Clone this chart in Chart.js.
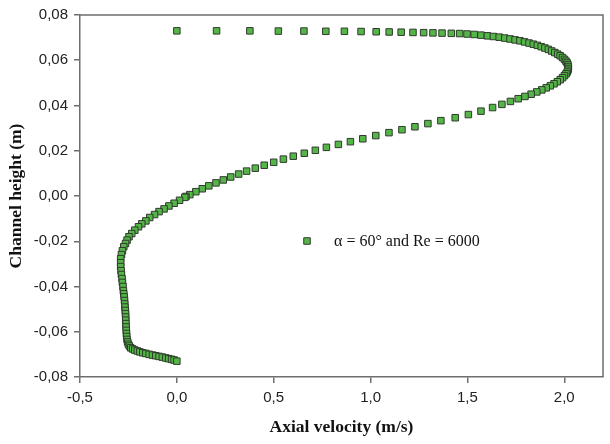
<!DOCTYPE html>
<html>
<head>
<meta charset="utf-8">
<title>Axial velocity profile</title>
<script src="https://cdn.jsdelivr.net/npm/chart.js@4/dist/chart.umd.min.js"></script>
<style>
  html, body { margin: 0; padding: 0; background: #ffffff; }
  #profile-chart { display: block; }
</style>
</head>
<body>
<canvas id="profile-chart" width="610" height="444"></canvas>
<script>
// Axial velocity profile across the channel (alpha = 60 deg, Re = 6000)

// Upper wall up to the velocity peak
const topVelocity = [
  0, 0.205, 0.377, 0.524, 0.656, 0.769, 0.865, 0.951, 1.029, 1.096,
  1.158, 1.219, 1.274, 1.322, 1.369, 1.417, 1.460, 1.498, 1.535, 1.570,
  1.603, 1.634, 1.664, 1.693, 1.720, 1.746, 1.771, 1.795, 1.818, 1.840,
  1.861, 1.881, 1.900, 1.918, 1.935, 1.951, 1.966, 1.979, 1.991, 2.001,
  2.009, 2.015, 2.019, 2.021
];
const topHeight = [
  0.0730, 0.0730, 0.0730, 0.0729, 0.0729, 0.0728, 0.0728, 0.0727, 0.0726, 0.0725,
  0.0724, 0.0723, 0.0722, 0.0721, 0.0720, 0.0719, 0.0718, 0.0716, 0.0714, 0.0711,
  0.0708, 0.0705, 0.0702, 0.0698, 0.0694, 0.0690, 0.0686, 0.0681, 0.0676, 0.0671,
  0.0666, 0.0660, 0.0654, 0.0648, 0.0641, 0.0634, 0.0627, 0.0620, 0.0612, 0.0604,
  0.0596, 0.0588, 0.0580, 0.0572
];

// From the peak back through the channel centre
const coreVelocity = [
  2.021, 2.019, 2.015, 2.009, 2.001, 1.991, 1.979, 1.964, 1.947, 1.928,
  1.907, 1.884, 1.858, 1.829, 1.797, 1.762, 1.722, 1.678, 1.630, 1.570,
  1.505, 1.437, 1.363, 1.296, 1.229, 1.162, 1.095, 1.027, 0.960, 0.896,
  0.834, 0.772, 0.715, 0.658, 0.601, 0.550, 0.500, 0.451, 0.405, 0.360,
  0.319, 0.278, 0.240, 0.202, 0.165, 0.131, 0.098, 0.067, 0.047, 0.041,
  0.014, -0.014, -0.041, -0.066, -0.092, -0.115, -0.140, -0.160, -0.181, -0.198,
  -0.217, -0.233, -0.247, -0.257, -0.265, -0.274, -0.281, -0.286, -0.290
];
const coreHeight = [
  0.0564, 0.0556, 0.0548, 0.0540, 0.0532, 0.0523, 0.0514, 0.0505, 0.0496, 0.0487,
  0.0478, 0.0469, 0.0460, 0.0450, 0.0440, 0.0430, 0.0418, 0.0405, 0.0391, 0.0375,
  0.0360, 0.0346, 0.0333, 0.0320, 0.0306, 0.0293, 0.0280, 0.0267, 0.0253, 0.0240,
  0.0228, 0.0215, 0.0202, 0.0189, 0.0176, 0.0163, 0.0149, 0.0136, 0.0123, 0.0110,
  0.0097, 0.0084, 0.0071, 0.0058, 0.0045, 0.0032, 0.0019, 0.0006, -0.0002, -0.0006,
  -0.0019, -0.0032, -0.0044, -0.0057, -0.0069, -0.0082, -0.0095, -0.0110, -0.0123, -0.0136,
  -0.0151, -0.0166, -0.0180, -0.0195, -0.0210, -0.0224, -0.0242, -0.0259, -0.0277
];

// Reverse-flow region down to the lower wall
const bottomVelocity = [
  -0.290, -0.290, -0.288, -0.286, -0.283, -0.281, -0.278, -0.276, -0.274, -0.272,
  -0.270, -0.269, -0.268, -0.266, -0.265, -0.264, -0.264, -0.263, -0.262, -0.261,
  -0.260, -0.259, -0.257, -0.254, -0.250, -0.245, -0.238, -0.228, -0.217, -0.204,
  -0.191, -0.176, -0.160, -0.143, -0.126, -0.109, -0.092, -0.075, -0.057, -0.042,
  -0.027, -0.014, 0
];
const bottomHeight = [
  -0.0295, -0.0312, -0.0330, -0.0347, -0.0365, -0.0382, -0.0400, -0.0418, -0.0432, -0.0446,
  -0.0462, -0.0477, -0.0491, -0.0506, -0.0520, -0.0535, -0.0549, -0.0564, -0.0579, -0.0594,
  -0.0608, -0.0621, -0.0634, -0.0645, -0.0655, -0.0663, -0.0671, -0.0676, -0.0681, -0.0685,
  -0.0689, -0.0693, -0.0696, -0.0700, -0.0703, -0.0706, -0.0709, -0.0712, -0.0716, -0.0719,
  -0.0722, -0.0725, -0.0730
];

const seriesLabel = 'α = 60° and Re = 6000';
const xTitle = 'Axial velocity (m/s)';
const yTitle = 'Channel height (m)';

const markerFill = '#55b548';
const markerEdge = '#2f3b2c';
const axisColor = '#6e6e6e';

// Zip the velocity/height pairs into scatter points
const toPoints = (xs, ys) => xs.map((v, i) => ({ x: v, y: ys[i] }));
const profilePoints = [
  ...toPoints(topVelocity, topHeight),
  ...toPoints(coreVelocity, coreHeight),
  ...toPoints(bottomVelocity, bottomHeight)
];

// Comma decimal separator on tick labels
const commaFixed = (value, digits) => {
  const v = Math.abs(value) < 1e-9 ? 0 : value;
  return v.toFixed(digits).replace('.', ',');
};

// Closes the plot box on the top and right sides
const frameBox = {
  id: 'frameBox',
  afterDraw(chart) {
    const { ctx, chartArea: a } = chart;
    ctx.save();
    ctx.strokeStyle = axisColor;
    ctx.lineWidth = 1.5;
    ctx.beginPath();
    ctx.moveTo(a.left, a.top);
    ctx.lineTo(a.right, a.top);
    ctx.lineTo(a.right, a.bottom);
    ctx.stroke();
    ctx.restore();
  }
};

// Single legend entry drawn inside the plot area
const innerLegend = {
  id: 'innerLegend',
  afterDraw(chart) {
    const { ctx, chartArea: a } = chart;
    const ds = chart.data.datasets[0];
    const mx = a.left + 227;
    const my = a.top + 226;
    ctx.save();
    ctx.fillStyle = ds.backgroundColor;
    ctx.strokeStyle = ds.borderColor;
    ctx.lineWidth = ds.borderWidth;
    Chart.helpers.drawPoint(ctx, { pointStyle: 'rect', radius: ds.pointRadius, borderWidth: ds.borderWidth }, mx, my);
    ctx.fillStyle = '#111111';
    ctx.font = '16px "Liberation Serif", "Times New Roman", serif';
    ctx.textAlign = 'left';
    ctx.textBaseline = 'middle';
    ctx.fillText(ds.label, mx + 27, my + 1);
    ctx.restore();
  }
};

const tickFont = { family: '"Liberation Sans", Arial, sans-serif', size: 15 };
const titleFont = { family: '"Liberation Serif", "Times New Roman", serif', size: 17.5, weight: 'bold' };

const ctx = document.getElementById('profile-chart').getContext('2d');
const chart = new Chart(ctx, {
  type: 'scatter',
  data: {
    datasets: [{
      label: seriesLabel,
      data: profilePoints,
      pointStyle: 'rect',
      pointRadius: 4.6,
      pointHoverRadius: 4.6,
      backgroundColor: markerFill,
      borderColor: markerEdge,
      borderWidth: 1
    }]
  },
  options: {
    responsive: false,
    animation: false,
    devicePixelRatio: 1,
    layout: { padding: { top: 13, right: 7, left: 0, bottom: 0 } },
    plugins: {
      legend: { display: false },
      tooltip: { enabled: false }
    },
    scales: {
      x: {
        type: 'linear',
        min: -0.5,
        max: 2.2,
        afterFit: (scale) => { scale.height = 67; },
        ticks: {
          stepSize: 0.5,
          includeBounds: false,
          padding: 6,
          color: '#222222',
          font: tickFont,
          callback: (v) => commaFixed(v, 1)
        },
        grid: { drawOnChartArea: false, drawTicks: true, tickLength: 6, color: axisColor, lineWidth: 1.5 },
        border: { display: true, color: axisColor, width: 1.5 },
        title: { display: true, text: xTitle, color: '#111111', font: titleFont, padding: { top: 4, bottom: 6 } }
      },
      y: {
        type: 'linear',
        min: -0.08,
        max: 0.08,
        afterFit: (scale) => { scale.width = 80; },
        ticks: {
          stepSize: 0.02,
          padding: 6,
          color: '#222222',
          font: tickFont,
          callback: (v) => commaFixed(v, 2)
        },
        grid: { drawOnChartArea: false, drawTicks: true, tickLength: 6, color: axisColor, lineWidth: 1.5 },
        border: { display: true, color: axisColor, width: 1.5 },
        title: { display: true, text: yTitle, color: '#111111', font: titleFont, padding: { top: 6, bottom: 4 } }
      }
    }
  },
  plugins: [frameBox, innerLegend]
});
</script>
</body>
</html>
